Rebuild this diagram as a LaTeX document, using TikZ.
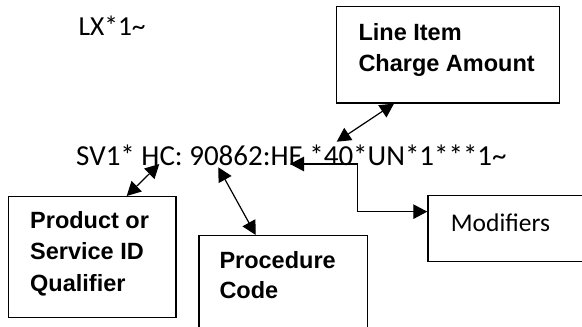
\documentclass[tikz,border=0pt]{standalone}
\usepackage{fontspec}
\setmainfont{Carlito}
\newfontfamily\labelfont{Liberation Sans Bold}
\usetikzlibrary{arrows.meta}

\begin{document}
\begin{tikzpicture}[
  x=1pt, y=-1pt,
  box/.style={draw=black, line width=1.3pt, anchor=north west, inner sep=0pt},
  lbl/.style={anchor=north west, align=left, inner sep=0pt,
              font=\labelfont\fontsize{23.5}{31.5}\selectfont},
  seg/.style={anchor=base west, inner sep=0pt, font=\fontsize{29}{34}\selectfont},
  arr/.style={{Triangle[length=14pt,width=14.5pt]}-{Triangle[length=14pt,width=14.5pt]}, line width=1.2pt}
]
  \useasboundingbox (0,0) rectangle (582,327);
  \clip (0,0) rectangle (582,327);

  \node[seg, font=\fontsize{27.5}{33}\selectfont] (lx) at (78.3,35) {LX*1\textasciitilde};
  \node[seg] (sv) at (76,165) {SV1* HC: 90862:HE *40*UN*1***1\textasciitilde};

  \node[box, minimum width=223pt, minimum height=96.3pt] (charge) at (336,6) {};
  \node[box, minimum width=167.7pt, minimum height=120.7pt] (prod) at (7.5,196) {};
  \node[box, minimum width=168.4pt, minimum height=110pt] (proc) at (198.3,235) {};
  \node[box, minimum width=200pt, minimum height=66pt] (mods) at (427.3,195) {};

  \node[lbl] (chargetxt) at (358.3,23) {Line Item\\Charge Amount};
  \node[lbl] (prodtxt) at (30,211) {Product or\\Service ID\\Qualifier};
  \node[lbl, font=\labelfont\fontsize{23.5}{30}\selectfont] (proctxt) at (219.3,251) {Procedure\\Code};
  \node[seg, font=\fontsize{25.5}{30}\selectfont] (modstxt) at (450.7,231.7) {Modifiers};

  \coordinate (hc) at (159.3,164);
  \coordinate (hcode) at (218.3,167.3);
  \coordinate (hf) at (290,164);
  \coordinate (amt) at (336.7,141.7);
  \coordinate (bend) at (357.7,164);

  \draw[arr] (hc) -- ([xshift=119.2pt]prod.north west);
  \draw[arr] (hcode) -- ([xshift=57.4pt]proc.north west);
  \draw[arr] (amt) -- ([xshift=58pt]charge.south west);
  \draw[arr] (hf) -- (bend) |- ([yshift=17pt]mods.west);
\end{tikzpicture}
\end{document}
